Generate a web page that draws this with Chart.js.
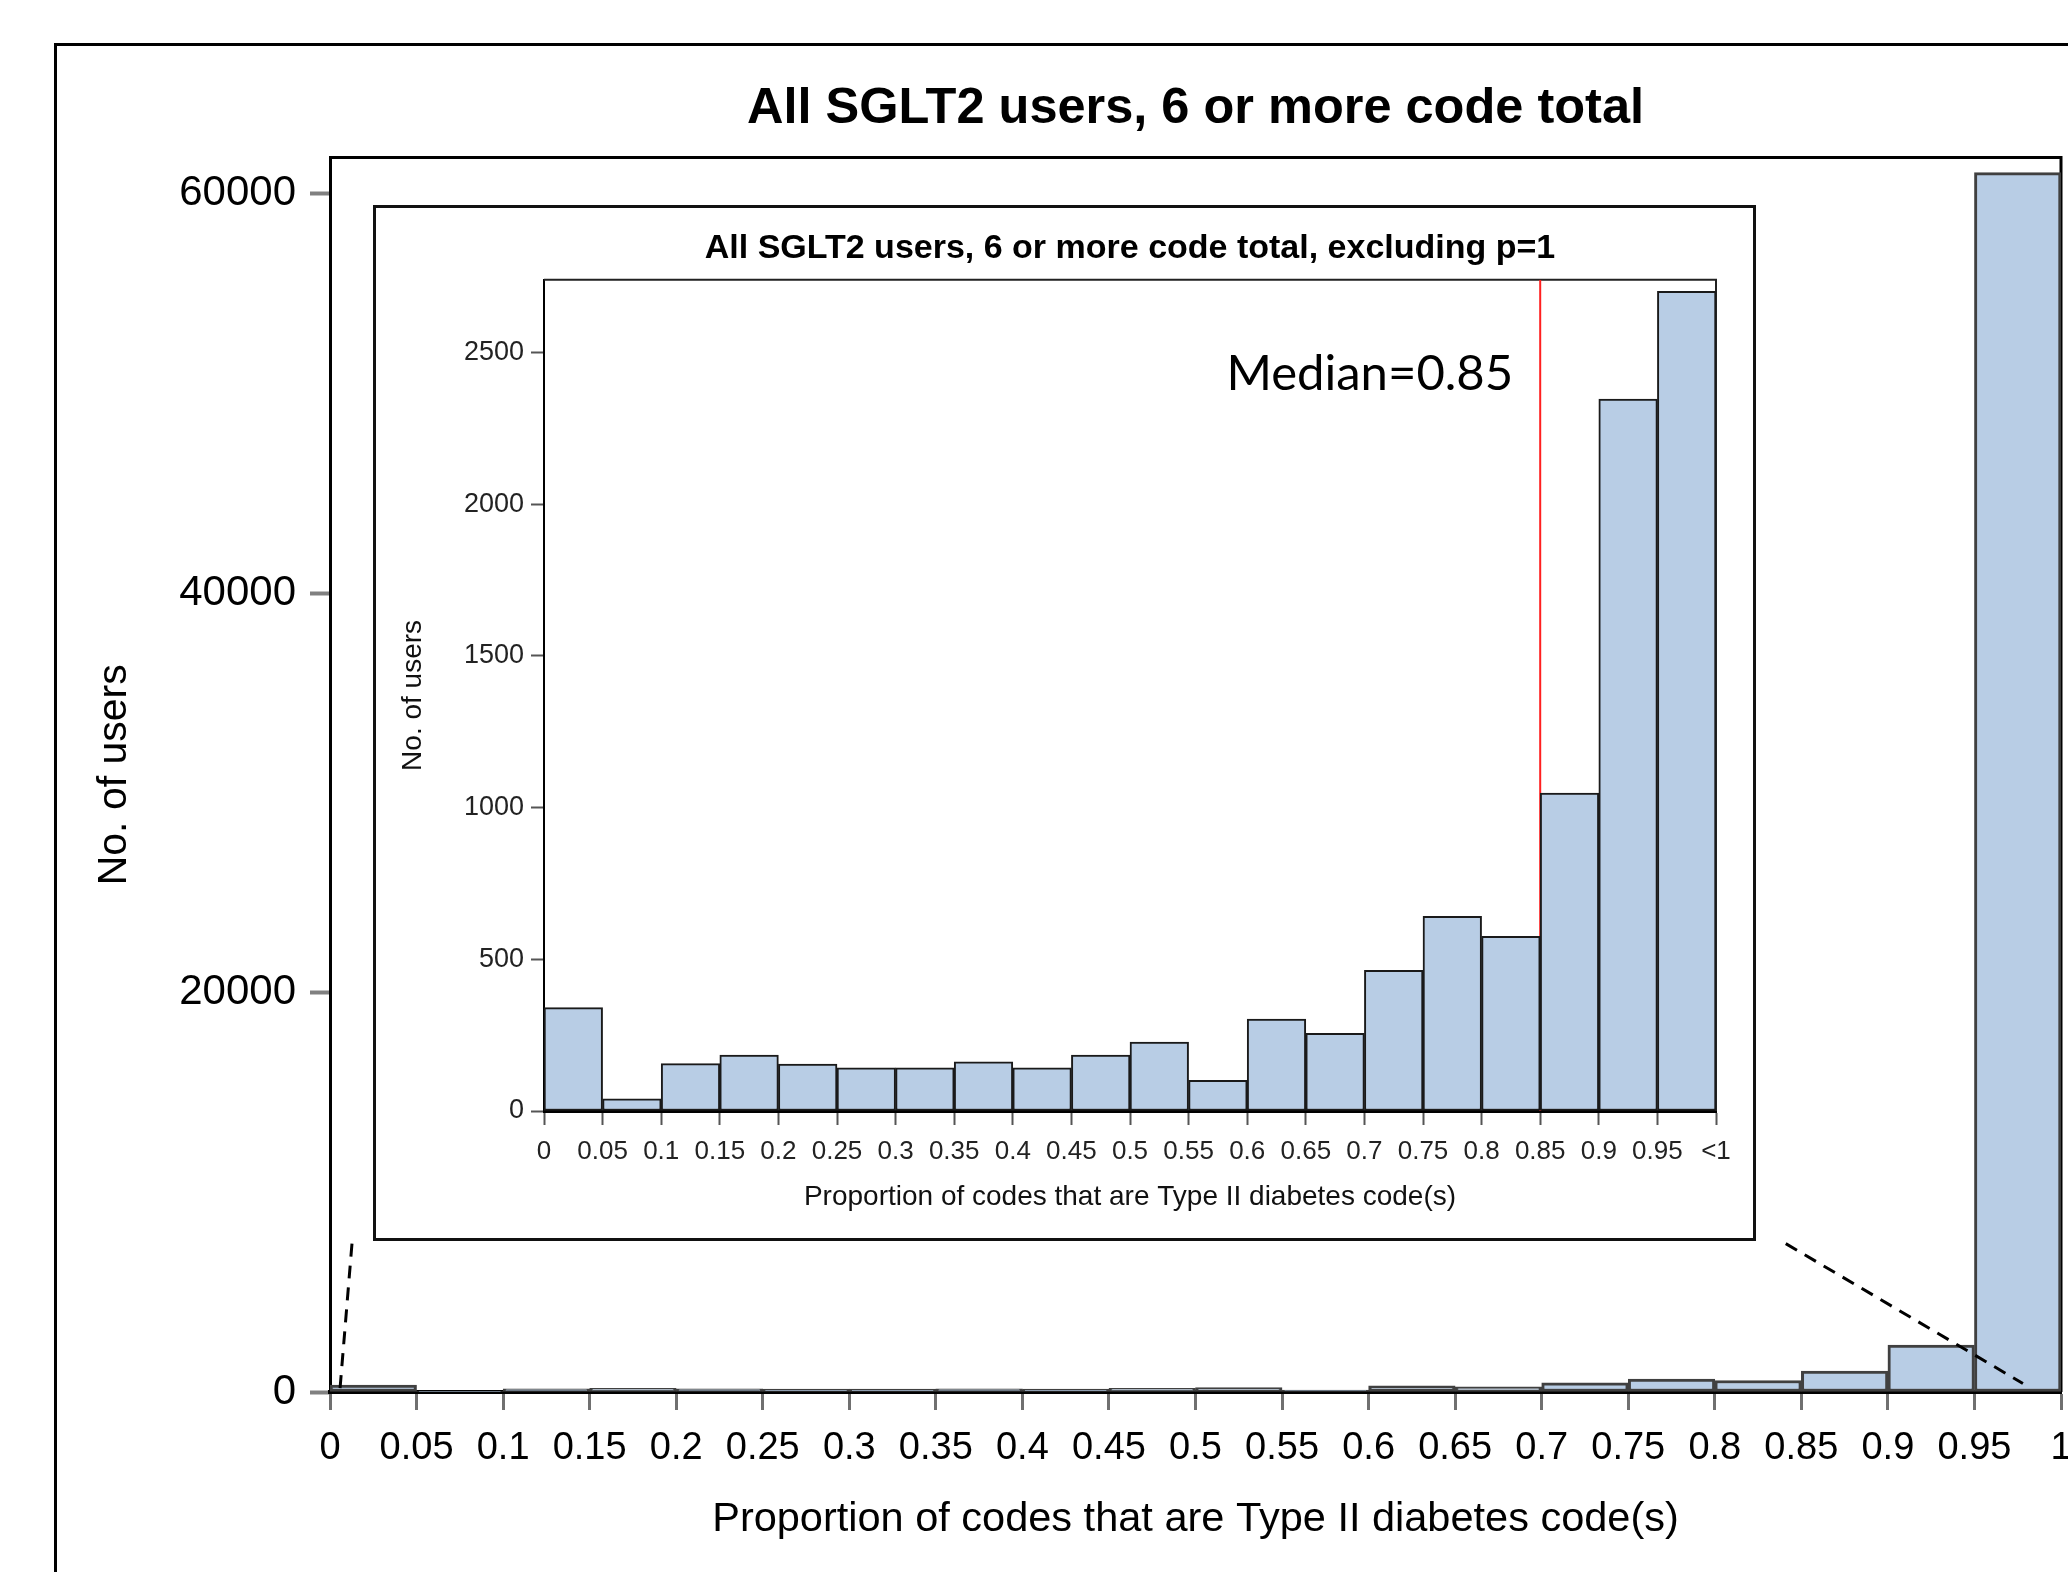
<!DOCTYPE html>
<html><head><meta charset="utf-8">
<script src="https://cdn.jsdelivr.net/npm/chart.js@4.4.0/dist/chart.umd.min.js"></script>
<style>
html,body{margin:0;padding:0;background:#fff;width:2068px;height:1572px;overflow:hidden;}
#frame{position:absolute;left:54px;top:43px;width:2100px;height:1600px;border-left:3px solid #000;border-top:3px solid #000;}
#main{position:absolute;left:0;top:0;}
#inset{position:absolute;left:373px;top:205px;}
</style></head><body>
<div id="frame"></div>
<canvas id="main" width="2068" height="1572"></canvas>
<canvas id="inset" width="1383" height="1036"></canvas>
<script>
// ---- data ----
const binEdges = [0,0.05,0.1,0.15,0.2,0.25,0.3,0.35,0.4,0.45,0.5,0.55,0.6,0.65,0.7,0.75,0.8,0.85,0.9,0.95,1];
const xTickLabels = ['0','0.05','0.1','0.15','0.2','0.25','0.3','0.35','0.4','0.45','0.5','0.55','0.6','0.65','0.7','0.75','0.8','0.85','0.9','0.95','1'];
const insetXTickLabels = ['0','0.05','0.1','0.15','0.2','0.25','0.3','0.35','0.4','0.45','0.5','0.55','0.6','0.65','0.7','0.75','0.8','0.85','0.9','0.95','<1'];
const mainCounts = [341,40,156,184,155,142,142,162,142,184,227,101,303,256,464,642,576,1048,2347,61050];
const insetCounts = [341,40,156,184,155,142,142,162,142,184,227,101,303,256,464,642,576,1048,2347,2702];
const mainYTicks = [0,20000,40000,60000];
const insetYTicks = [0,500,1000,1500,2000,2500];
const medianValue = 0.85;
const medianLabel = 'Median=0.85';
const mainTitle = 'All SGLT2 users, 6 or more code total';
const insetTitle = 'All SGLT2 users, 6 or more code total, excluding p=1';
const xTitle = 'Proportion of codes that are Type II diabetes code(s)';
const yTitle = 'No. of users';
// zoom guide lines (main chart data coordinates)
const zoomLeft = [{x:0.0127,y:7430},{x:0.0058,y:175}];
const zoomRight = [{x:0.841,y:7430},{x:0.978,y:425}];

const binCenters = binEdges.slice(0,-1).map((e,i)=>(e+binEdges[i+1])/2);
const barFill = '#B8CDE5';

Chart.defaults.font.family = '"Liberation Sans", Arial, sans-serif';
Chart.defaults.color = '#000';

const boxPlugin = {
  id:'boxPlugin',
  beforeDatasetsDraw(chart, args, opts){
    const {ctx, chartArea:a} = chart;
    ctx.save();
    ctx.strokeStyle = opts.color; ctx.lineWidth = opts.width;
    ctx.beginPath();
    ctx.moveTo(a.left, a.top); ctx.lineTo(a.right, a.top); ctx.lineTo(a.right, a.bottom);
    ctx.stroke();
    ctx.restore();
  }
};

// ---- main chart ----
new Chart(document.getElementById('main'), {
  data: {
    datasets: [
      {type:'bar', data: binCenters.map((x,i)=>({x, y: mainCounts[i]})), backgroundColor: barFill,
       borderColor:'#404040', borderWidth:3, borderSkipped:false, barPercentage:1, categoryPercentage:1, order:2},
      {type:'line', data: zoomLeft, borderColor:'#000', borderWidth:3, borderDash:[13,9], pointRadius:0, order:0},
      {type:'line', data: zoomRight, borderColor:'#000', borderWidth:3, borderDash:[13,9], pointRadius:0, order:0}
    ]
  },
  options: {
    responsive:false, animation:false, events:[],
    layout:{autoPadding:false, padding:{left:0, top:0, right:7, bottom:0}},
    plugins:{
      legend:{display:false}, tooltip:{enabled:false},
      title:{display:true, text:mainTitle, fullSize:false, font:{size:50.5, weight:'bold'}, padding:{top:79, bottom:18}, color:'#000'},
      boxPlugin:{color:'#000', width:3}
    },
    scales:{
      x:{type:'linear', min:0, max:1, offset:false,
        afterBuildTicks: s => { s.ticks = binEdges.map(v=>({value:v})); },
        afterFit: s => { s.height = 180; s.paddingLeft = 0; s.paddingRight = 0; },
        ticks:{callback:(v,i)=>xTickLabels[i], font:{size:38}, color:'#000', padding:16, maxRotation:0, autoSkip:false},
        grid:{offset:false, drawOnChartArea:false, drawTicks:true, tickLength:18, tickWidth:3, tickColor:'#707070'},
        border:{display:true, color:'#000', width:4},
        title:{display:true, text:xTitle, font:{size:41.5}, padding:{top:0, bottom:28}, color:'#000'}
      },
      y:{type:'linear', min:0, max:61800,
        afterBuildTicks: s => { s.ticks = mainYTicks.map(v=>({value:v})); },
        afterFit: s => { s.width = 330; },
        ticks:{callback:v=>String(v), font:{size:42}, color:'#000', padding:14},
        grid:{drawOnChartArea:false, drawTicks:true, tickLength:20, tickWidth:4, tickColor:'#808080'},
        border:{display:true, color:'#000', width:3},
        title:{display:true, text:yTitle, font:{size:41}, padding:{top:90, bottom:0}, color:'#000'}
      }
    }
  },
  plugins:[boxPlugin]
});

// ---- inset chart ----
const insetFrame = {
  id:'insetFrame',
  beforeDraw(chart){
    const {ctx, width, height} = chart;
    ctx.save(); ctx.fillStyle = '#fff'; ctx.fillRect(0,0,width,height); ctx.restore();
  },
  afterDraw(chart){
    const {ctx, width, height} = chart;
    ctx.save(); ctx.strokeStyle = '#111'; ctx.lineWidth = 3; ctx.strokeRect(1.5,1.5,width-3,height-3); ctx.restore();
  }
};
const medianText = {
  id:'medianText',
  afterDatasetsDraw(chart, args, opts){
    const {ctx, scales} = chart;
    ctx.save();
    ctx.font = opts.font; ctx.fillStyle = '#000'; ctx.textAlign = 'right'; ctx.textBaseline = 'middle';
    ctx.fillText(opts.text, scales.x.getPixelForValue(opts.x) - opts.gap, scales.y.getPixelForValue(opts.y));
    ctx.restore();
  }
};
new Chart(document.getElementById('inset'), {
  data: {
    datasets: [
      {type:'bar', data: binCenters.map((x,i)=>({x, y: insetCounts[i]})), backgroundColor: barFill,
       borderColor:'#1a1a1a', borderWidth:2, borderSkipped:false, barPercentage:1, categoryPercentage:1, order:1},
      {type:'line', data:[{x:medianValue,y:0},{x:medianValue,y:2740}], borderColor:'#ff2020', borderWidth:2, pointRadius:0, order:3}
    ]
  },
  options: {
    responsive:false, animation:false, events:[],
    layout:{autoPadding:false, padding:{left:0, top:0, right:40, bottom:0}},
    plugins:{
      legend:{display:false}, tooltip:{enabled:false},
      title:{display:true, text:insetTitle, fullSize:false, font:{size:34, weight:'bold'}, padding:{top:23, bottom:11}, color:'#000'},
      boxPlugin:{color:'#222', width:2},
      medianText:{text:medianLabel, font:'49px Lato, "Open Sans", sans-serif', x:medianValue, y:2430, gap:27}
    },
    scales:{
      x:{type:'linear', min:0, max:1, offset:false,
        afterBuildTicks: s => { s.ticks = binEdges.map(v=>({value:v})); },
        afterFit: s => { s.height = 130; },
        ticks:{callback:(v,i)=>insetXTickLabels[i], font:{size:26}, color:'#222', padding:11, maxRotation:0, autoSkip:false},
        grid:{offset:false, drawOnChartArea:false, drawTicks:true, tickLength:14, tickWidth:2, tickColor:'#555'},
        border:{display:true, color:'#000', width:3},
        title:{display:true, text:xTitle, font:{size:28}, padding:{top:0, bottom:27}, color:'#111'}
      },
      y:{type:'linear', min:0, max:2740,
        afterBuildTicks: s => { s.ticks = insetYTicks.map(v=>({value:v})); },
        afterFit: s => { s.width = 171; },
        ticks:{callback:v=>String(v), font:{size:27}, color:'#222', padding:7},
        grid:{drawOnChartArea:false, drawTicks:true, tickLength:13, tickWidth:2, tickColor:'#555'},
        border:{display:true, color:'#000', width:2},
        title:{display:true, text:yTitle, font:{size:28}, padding:{top:23, bottom:0}, color:'#111'}
      }
    }
  },
  plugins:[boxPlugin, insetFrame, medianText]
});
</script>
</body></html>
